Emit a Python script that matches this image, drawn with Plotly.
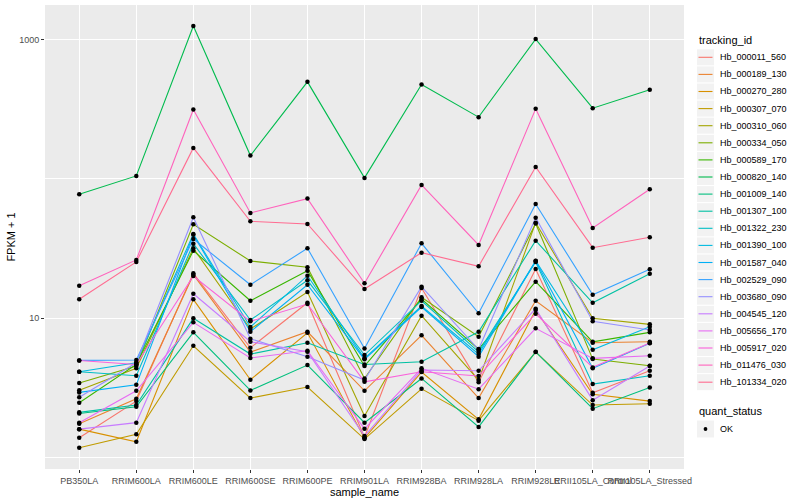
import plotly.graph_objects as go

samples = ["PB350LA", "RRIM600LA", "RRIM600LE", "RRIM600SE", "RRIM600PE", "RRIM901LA",
           "RRIM928BA", "RRIM928LA", "RRIM928LE", "RRII105LA_Control", "RRII105LA_Stressed"]

tracking_ids = ["Hb_000011_560", "Hb_000189_130", "Hb_000270_280", "Hb_000307_070", "Hb_000310_060",
                "Hb_000334_050", "Hb_000589_170", "Hb_000820_140", "Hb_001009_140", "Hb_001307_100",
                "Hb_001322_230", "Hb_001390_100", "Hb_001587_040", "Hb_002529_090", "Hb_003680_090",
                "Hb_004545_120", "Hb_005656_170", "Hb_005917_020", "Hb_011476_030", "Hb_101334_020"]

colors = ["#F8766D", "#EA8331", "#D89000", "#C09B00", "#A3A500", "#7CAE00", "#39B600", "#00BB4E",
          "#00BF7D", "#00C1A3", "#00BFC4", "#00BAE0", "#00B0F6", "#35A2FF", "#9590FF", "#C77CFF",
          "#E76BF3", "#FA62DB", "#FF62BC", "#FF6C91"]

# FPKM + 1 values per gene, one per sample
Hb_000011_560 = [1.38, 2.53, 20.97, 6.11, 12.88, 1.39, 16.44, 3.45, 22.51, 2.90, 4.18]
Hb_000189_130 = [1.74, 2.63, 20.49, 5.69, 7.97, 3.00, 7.51, 2.66, 13.32, 6.64, 6.75]
Hb_000270_280 = [1.59, 1.29, 13.63, 3.60, 7.84, 1.37, 4.09, 1.87, 11.42, 2.83, 2.53]
Hb_000307_070 = [1.17, 1.46, 6.32, 2.66, 3.19, 1.35, 3.10, 1.83, 5.69, 2.37, 2.42]
Hb_000310_060 = [3.03, 4.35, 31.72, 8.33, 15.38, 1.98, 10.39, 3.58, 48.48, 9.95, 9.01]
Hb_000334_050 = [3.41, 4.52, 47.21, 25.71, 23.15, 3.68, 14.09, 7.34, 47.85, 5.07, 4.54]
Hb_000589_170 = [2.46, 4.64, 30.49, 13.32, 21.89, 4.52, 13.70, 5.98, 18.25, 6.75, 7.89]
Hb_000820_140 = [77.6, 105.1, 1255.0, 147.1, 498.5, 101.7, 476.8, 277.9, 1012.0, 322.5, 436.9]
Hb_001009_140 = [2.06, 2.30, 7.89, 3.02, 4.59, 1.77, 3.68, 1.65, 5.72, 2.23, 3.17]
Hb_001307_100 = [2.10, 2.37, 9.95, 5.51, 6.64, 4.64, 4.85, 7.97, 35.98, 12.88, 20.83]
Hb_001322_230 = [4.11, 3.85, 34.23, 9.67, 18.67, 5.42, 13.32, 5.72, 25.29, 3.35, 3.85]
Hb_001390_100 = [4.11, 4.77, 40.21, 8.62, 20.15, 5.13, 12.20, 5.51, 25.84, 5.92, 8.66]
Hb_001587_040 = [2.92, 3.31, 39.75, 7.97, 17.36, 5.05, 12.00, 5.27, 25.71, 4.35, 6.58]
Hb_002529_090 = [4.96, 4.99, 37.01, 17.36, 31.72, 6.05, 34.46, 10.81, 66.10, 14.71, 22.40]
Hb_003680_090 = [2.70, 4.77, 53.03, 7.10, 5.27, 3.58, 16.80, 5.94, 52.68, 9.47, 8.20]
Hb_004545_120 = [1.59, 1.77, 14.96, 6.75, 5.72, 1.42, 4.23, 4.18, 11.67, 2.57, 4.52]
Hb_005656_170 = [1.77, 3.00, 9.31, 5.16, 5.82, 1.60, 4.35, 3.08, 8.43, 5.13, 5.36]
Hb_005917_020 = [4.95, 4.64, 20.05, 9.47, 12.61, 3.48, 4.11, 3.83, 10.74, 4.42, 6.61]
Hb_011476_030 = [17.08, 26.15, 315.2, 56.93, 72.17, 17.77, 90.5, 33.5, 318.8, 44.4, 84.3]
Hb_101334_020 = [13.63, 25.29, 167.1, 49.62, 47.45, 16.17, 29.5, 23.54, 122.0, 32.05, 38.07]

series = [Hb_000011_560, Hb_000189_130, Hb_000270_280, Hb_000307_070, Hb_000310_060,
          Hb_000334_050, Hb_000589_170, Hb_000820_140, Hb_001009_140, Hb_001307_100,
          Hb_001322_230, Hb_001390_100, Hb_001587_040, Hb_002529_090, Hb_003680_090,
          Hb_004545_120, Hb_005656_170, Hb_005917_020, Hb_011476_030, Hb_101334_020]

quant_status = "OK"

FONT = "Liberation Sans, Arial, sans-serif"
W, H = 800, 500
ML, MR, MT, MB = 45, 116, 5, 31
PW, PH = W - ML - MR, H - MT - MB


def px(x):
    return (x - ML) / PW


def py(y):
    return (H - MB - y) / PH


fig = go.Figure()
for name, vals, col in zip(tracking_ids, series, colors):
    fig.add_trace(go.Scatter(x=samples, y=vals, mode="lines", name=name,
                             line=dict(color=col, width=1.1), showlegend=False))

all_x, all_y = [], []
for vals in series:
    all_x += samples
    all_y += vals
fig.add_trace(go.Scatter(x=all_x, y=all_y, mode="markers", name=quant_status,
                         marker=dict(color="black", size=4.5, symbol="circle"),
                         showlegend=False))

# legend drawn by hand (ggplot style)
shapes, annotations = [], []
LX = 697
annotations.append(dict(text="tracking_id", x=px(LX), y=py(40), xref="paper", yref="paper",
                        xanchor="left", yanchor="middle", showarrow=False,
                        font=dict(size=11, color="black", family=FONT)))
step = 17.1
for i, (name, col) in enumerate(zip(tracking_ids, colors)):
    cy = 57.3 + i * step
    shapes.append(dict(type="rect", xref="paper", yref="paper",
                       x0=px(LX), x1=px(LX + 17), y0=py(cy - 8), y1=py(cy + 8),
                       fillcolor="#F2F2F2", line=dict(width=0), layer="below"))
    shapes.append(dict(type="line", xref="paper", yref="paper",
                       x0=px(LX + 1.5), x1=px(LX + 15.5), y0=py(cy), y1=py(cy),
                       line=dict(color=col, width=1.1)))
    annotations.append(dict(text=name, x=px(LX + 21), y=py(cy), xref="paper", yref="paper",
                            xanchor="left", yanchor="middle", showarrow=False,
                            font=dict(size=9, color="black", family=FONT)))

annotations.append(dict(text="quant_status", x=px(LX), y=py(411), xref="paper", yref="paper",
                        xanchor="left", yanchor="middle", showarrow=False,
                        font=dict(size=11, color="black", family=FONT)))
okc = 429
shapes.append(dict(type="rect", xref="paper", yref="paper",
                   x0=px(LX), x1=px(LX + 17), y0=py(okc - 8.5), y1=py(okc + 8.5),
                   fillcolor="#F2F2F2", line=dict(width=0), layer="below"))
shapes.append(dict(type="circle", xref="paper", yref="paper",
                   x0=px(LX + 6.6), x1=px(LX + 10.4), y0=py(okc - 1.9), y1=py(okc + 1.9),
                   fillcolor="black", line=dict(width=0)))
annotations.append(dict(text=quant_status, x=px(LX + 21), y=py(okc), xref="paper", yref="paper",
                        xanchor="left", yanchor="middle", showarrow=False,
                        font=dict(size=9, color="black", family=FONT)))

fig.update_layout(
    width=W, height=H,
    margin=dict(l=ML, r=MR, t=MT, b=MB, autoexpand=False),
    paper_bgcolor="white", plot_bgcolor="#EBEBEB",
    font=dict(family=FONT, size=9, color="#4D4D4D"),
    showlegend=False,
    shapes=shapes, annotations=annotations,
)

fig.update_xaxes(
    type="category", categoryorder="array", categoryarray=samples,
    range=[-0.6, len(samples) - 0.4], automargin=False,
    showgrid=True, gridcolor="white", gridwidth=1.1,
    ticks="outside", ticklen=3, tickcolor="#333333", tickangle=0,
    tickfont=dict(size=9, color="#4D4D4D"),
    title=dict(text="sample_name", font=dict(size=11, color="black"), standoff=0),
    zeroline=False, showline=False,
)

fig.update_yaxes(
    type="log", range=[-0.085, 3.25], automargin=False,
    tickmode="array", tickvals=[10, 1000], ticktext=["10", "1000"],
    showgrid=True, gridcolor="white", gridwidth=1.1,
    minor=dict(tickmode="array", tickvals=[1, 100], showgrid=True, gridcolor="white",
               gridwidth=0.55, ticks=""),
    ticks="outside", ticklen=3, tickcolor="#333333",
    tickfont=dict(size=9, color="#4D4D4D"),
    title=dict(text="FPKM + 1", font=dict(size=11, color="black"), standoff=1),
    zeroline=False, showline=False,
)

fig.write_html("out.html", config={"displayModeBar": False},
               post_script="document.body.style.margin='0px';")
